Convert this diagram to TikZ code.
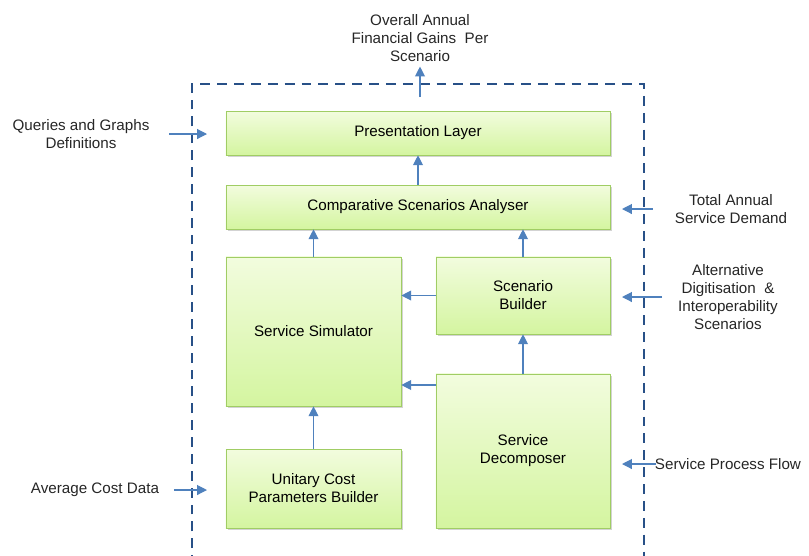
\documentclass[tikz,border=0pt]{standalone}
\usepackage{fontspec}
\setmainfont{Liberation Sans}
\usetikzlibrary{arrows.meta,shadows}
\definecolor{flowblue}{RGB}{79,129,189}
\definecolor{frameblue}{RGB}{40,80,135}
\definecolor{boxtop}{RGB}{242,252,222}
\definecolor{boxbot}{RGB}{212,245,160}
\definecolor{boxline}{RGB}{160,205,100}
\tikzset{
  block/.style={draw=boxline, top color=boxtop, bottom color=boxbot,
    align=center, inner sep=0pt,
    drop shadow={shadow xshift=1.5pt,shadow yshift=-1.5pt,opacity=0.35}},
  flow/.style={-{Triangle[length=7pt,width=7pt]}, draw=flowblue, line width=0.8pt},
  infotext/.style={align=center, text=black!85},
  sysframe/.style={draw=frameblue, line width=2pt, dash pattern=on 7pt off 5pt}
}
\begin{document}
\begin{tikzpicture}[x=0.025cm,y=-0.025cm,font=\fontsize{10.8}{12.8}\selectfont]
  \useasboundingbox (0,0) rectangle (809,555);
  \draw[sysframe] (192,565) -- (192,84) -- (644,84) -- (644,565);

  \node[block, minimum width=9.6cm, minimum height=1.1cm] (pl) at (418,133) {Presentation Layer};
  \node[block, minimum width=9.6cm, minimum height=1.1cm] (csa) at (418,207) {Comparative Scenarios Analyser};
  \node[block, minimum width=4.375cm, minimum height=3.725cm] (ss) at (313.5,331.5) {Service Simulator};
  \node[block, minimum width=4.35cm, minimum height=1.925cm] (sb) at (523,295.5) {Scenario\\Builder};
  \node[block, minimum width=4.35cm, minimum height=3.85cm] (sd) at (523,451) {Service\\Decomposer};
  \node[block, minimum width=4.375cm, minimum height=1.975cm] (ucb) at (313.5,488.5) {Unitary Cost\\Parameters Builder};

  \node[infotext] (gains) at (420,38) {Overall Annual\\Financial Gains~ Per\\Scenario};
  \node[infotext] (queries) at (81,134) {Queries and Graphs\\Definitions};
  \node[infotext] (costdata) at (95,490) {Average Cost Data};
  \node[infotext] (demand) at (731,209) {Total Annual\\Service Demand};
  \node[infotext] (altscen) at (728,297) {Alternative\\Digitisation~ \&\\Interoperability\\Scenarios};
  \node[infotext, anchor=west] (procflow) at (650,464) {Service Process Flow};

  \draw[flow] (gains.south |- 0,97) -- (gains.south);
  \draw[flow] (csa) -- (pl);
  \draw[flow] (ss.north) -- (ss.north |- csa.south);
  \draw[flow] (sb.north) -- (sb.north |- csa.south);
  \draw[flow] (sb.west) -- (sb.west -| ss.east);
  \draw[flow] (sd.west |- 0,385) -- (ss.east |- 0,385);
  \draw[flow] (sd) -- (sb);
  \draw[flow] (ucb) -- (ss);

  \draw[flow] ([xshift=0.375cm]queries.east) -- (queries.east -| 207,0);
  \draw[flow] ([xshift=0.25cm]costdata.east) -- (costdata.east -| 207,0);
  \draw[flow] ([xshift=-0.425cm]demand.west) -- (demand.west -| 622,0);
  \draw[flow] ([xshift=-0.275cm]altscen.west) -- (altscen.west -| 622,0);
  \draw[flow] ([xshift=0.15cm]procflow.west) -- (procflow.west -| 622,0);
\end{tikzpicture}
\end{document}
